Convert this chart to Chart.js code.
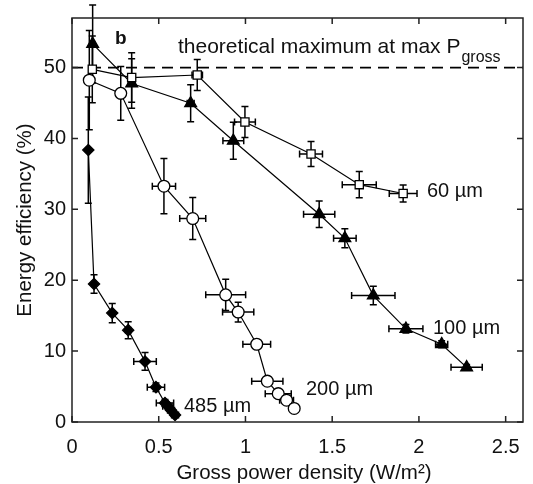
<!DOCTYPE html>
<html>
<head>
<meta charset="utf-8">
<script src="https://cdn.jsdelivr.net/npm/chart.js@4/dist/chart.umd.min.js"></script>
<style>
  html, body { margin: 0; padding: 0; background: #fff; }
  #wrap { width: 533px; height: 484px; }
</style>
</head>
<body>
<div id="wrap"><canvas id="c" width="533" height="484"></canvas></div>
<script>
// ticks
const xTicks = [0, 0.5, 1, 1.5, 2, 2.5];
const yTicks = [0, 10, 20, 30, 40, 50];
const theoreticalMax = 50;

// 60 um, open squares
const x60 = [0.117, 0.344, 0.722, 0.997, 1.378, 1.656, 1.909];
const y60 = [49.76, 48.6, 48.96, 42.33, 37.81, 33.49, 32.24];
const xe60 = [0.01, 0.02, 0.03, 0.06, 0.066, 0.098, 0.08];
const ye60 = [4.7, 3.5, 2.2, 2.2, 1.75, 1.86, 1.2];

// 100 um, filled triangles
const x100 = [0.119, 0.344, 0.684, 0.930, 1.425, 1.573, 1.737, 1.925, 2.131, 2.275];
const y100 = [53.34, 47.76, 44.97, 39.68, 29.31, 25.92, 17.84, 13.14, 10.97, 7.71];
const xe100 = [0.01, 0.02, 0.02, 0.06, 0.09, 0.065, 0.125, 0.098, 0.035, 0.09];
const ye100 = [5.5, 3.5, 2.6, 2.6, 1.86, 1.35, 1.3, 0.6, 0.5, 0.4];

// 200 um, open circles
const x200 = [0.0997, 0.281, 0.530, 0.696, 0.886, 0.958, 1.065, 1.126, 1.189, 1.237, 1.281];
const y200 = [48.22, 46.37, 33.27, 28.71, 17.94, 15.51, 10.97, 5.76, 4.0, 3.07, 1.91];
const xe200 = [0.01, 0.01, 0.067, 0.075, 0.115, 0.09, 0.08, 0.09, 0.075, 0.04, 0.02];
const ye200 = [7, 3.8, 3.9, 2.95, 2.2, 1.4, 0.5, 0.4, 0.3, 0.3, 0.3];

// 485 um, filled diamonds
const x485 = [0.094, 0.127, 0.232, 0.324, 0.421, 0.484, 0.536, 0.553, 0.571, 0.594];
const y485 = [38.37, 19.47, 15.37, 12.96, 8.54, 4.92, 2.69, 2.23, 1.67, 0.98];
const xe485 = [0.005, 0.01, 0.01, 0.015, 0.065, 0.05, 0.05, 0.03, 0.02, 0.02];
const ye485 = [7.5, 1.3, 1.35, 1.2, 1.25, 0.6, 0.5, 0.4, 0.3, 0.3];

const FONT = "'Liberation Sans', Arial, Helvetica, sans-serif";

function pts(xs, ys) {
  return xs.map((x, i) => ({ x, y: ys[i] }));
}

function series(label, xs, ys, style, radius, fill) {
  return {
    label,
    data: pts(xs, ys),
    showLine: true,
    borderColor: "#000",
    borderWidth: 1.2,
    pointStyle: style,
    pointRadius: radius,
    pointBorderWidth: 1.3,
    pointBorderColor: "#000",
    pointBackgroundColor: fill,
    pointHoverRadius: radius,
  };
}

const errs = [
  [xe60, ye60],
  [xe100, ye100],
  [xe200, ye200],
  [xe485, ye485],
];

// error bars, drawn under the markers
const errorBars = {
  id: "errorBars",
  beforeDatasetsDraw(chart) {
    const { ctx } = chart;
    const xs = chart.scales.x, ys = chart.scales.y;
    const cap = 3.5;
    ctx.save();
    ctx.strokeStyle = "#000";
    ctx.lineWidth = 1.5;
    chart.data.datasets.forEach((ds, di) => {
      const [xe, ye] = errs[di];
      ds.data.forEach((p, i) => {
        const px = xs.getPixelForValue(p.x), py = ys.getPixelForValue(p.y);
        const top = ys.getPixelForValue(p.y + ye[i]);
        const bot = ys.getPixelForValue(p.y - ye[i]);
        const l = xs.getPixelForValue(p.x - xe[i]);
        const r = xs.getPixelForValue(p.x + xe[i]);
        ctx.beginPath();
        ctx.moveTo(px, top); ctx.lineTo(px, bot);
        ctx.moveTo(px - cap, top); ctx.lineTo(px + cap, top);
        ctx.moveTo(px - cap, bot); ctx.lineTo(px + cap, bot);
        ctx.moveTo(l, py); ctx.lineTo(r, py);
        ctx.moveTo(l, py - cap); ctx.lineTo(l, py + cap);
        ctx.moveTo(r, py - cap); ctx.lineTo(r, py + cap);
        ctx.stroke();
      });
    });
    ctx.restore();
  },
};

// frame, inward ticks, dashed max line, annotations, axis titles
const decor = {
  id: "decor",
  beforeDatasetsDraw(chart) {
    const { ctx, chartArea: a } = chart;
    const ys = chart.scales.y;
    ctx.save();
    const yd = ys.getPixelForValue(theoreticalMax);
    ctx.strokeStyle = "#000";
    ctx.lineWidth = 1.6;
    ctx.setLineDash([11, 7]);
    ctx.beginPath();
    ctx.moveTo(a.left, yd);
    ctx.lineTo(a.right, yd);
    ctx.stroke();
    ctx.restore();
  },
  afterDraw(chart) {
    const { ctx, chartArea: a } = chart;
    const xs = chart.scales.x, ys = chart.scales.y;
    ctx.save();
    ctx.strokeStyle = "#222";
    ctx.lineWidth = 1.5;
    ctx.strokeRect(a.left, a.top, a.right - a.left, a.bottom - a.top);
    const tl = 6;
    ctx.beginPath();
    xTicks.forEach((v) => {
      const px = xs.getPixelForValue(v);
      ctx.moveTo(px, a.bottom); ctx.lineTo(px, a.bottom - tl);
      ctx.moveTo(px, a.top); ctx.lineTo(px, a.top + tl);
    });
    yTicks.forEach((v) => {
      const py = ys.getPixelForValue(v);
      ctx.moveTo(a.left, py); ctx.lineTo(a.left + tl, py);
      ctx.moveTo(a.right, py); ctx.lineTo(a.right - tl, py);
    });
    ctx.stroke();

    ctx.fillStyle = "#111";
    ctx.textBaseline = "alphabetic";
    ctx.textAlign = "left";
    ctx.font = "bold 19px " + FONT;
    ctx.fillText("b", 115, 44);

    ctx.font = "21px " + FONT;
    const t = "theoretical maximum at max P";
    ctx.fillText(t, 178, 53);
    const w = ctx.measureText(t).width;
    ctx.font = "16px " + FONT;
    ctx.fillText("gross", 178 + w + 1, 62);

    ctx.font = "20px " + FONT;
    ctx.fillText("60 \u00b5m", 427, 197);
    ctx.fillText("100 \u00b5m", 433, 334);
    ctx.fillText("200 \u00b5m", 306, 395);
    ctx.fillText("485 \u00b5m", 184, 412);

    // axis titles
    ctx.textAlign = "center";
    ctx.font = "20.5px " + FONT;
    ctx.fillText("Gross power density (W/m\u00b2)", 304, 479);
    ctx.translate(31, (a.top + a.bottom) / 2);
    ctx.rotate(-Math.PI / 2);
    ctx.fillText("Energy efficiency (%)", 0, 0);
    ctx.restore();
  },
};

new Chart(document.getElementById("c"), {
  type: "scatter",
  data: {
    datasets: [
      series("60 \u00b5m", x60, y60, "rect", 5.8, "#fff"),
      series("100 \u00b5m", x100, y100, "triangle", 6.8, "#000"),
      series("200 \u00b5m", x200, y200, "circle", 5.9, "#fff"),
      series("485 \u00b5m", x485, y485, "rectRot", 5.6, "#000"),
    ],
  },
  options: {
    responsive: false,
    animation: false,
    layout: { padding: { left: 0, top: 13, right: 10, bottom: 0 } },
    plugins: {
      legend: { display: false },
      tooltip: { enabled: false },
    },
    scales: {
      x: {
        type: "linear",
        min: 0,
        max: 2.6,
        afterBuildTicks(s) { s.ticks = xTicks.map((v) => ({ value: v })); },
        afterFit(s) { s.height = 62; },
        grid: { display: false, drawTicks: false },
        border: { display: false },
        ticks: {
          padding: 13,
          color: "#111",
          font: { family: FONT, size: 20 },
          maxRotation: 0,
          callback: (v) => String(v),
        },
      },
      y: {
        type: "linear",
        min: 0,
        max: 57,
        afterBuildTicks(s) { s.ticks = yTicks.map((v) => ({ value: v })); },
        afterFit(s) { s.width = 72; },
        grid: { display: false, drawTicks: false },
        border: { display: false },
        ticks: {
          padding: 6,
          color: "#111",
          font: { family: FONT, size: 20 },
          callback: (v) => String(v),
        },
      },
    },
  },
  plugins: [decor, errorBars],
});
</script>
</body>
</html>
